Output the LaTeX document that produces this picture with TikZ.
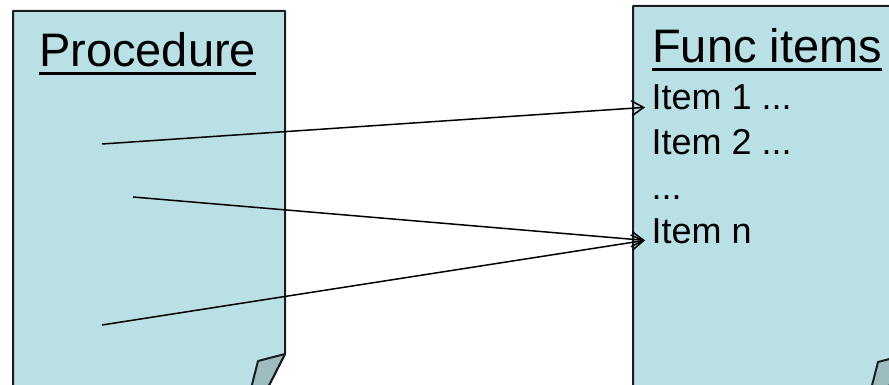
\documentclass[tikz,border=0pt]{standalone}
\usepackage{fontspec}
\setmainfont{Liberation Sans}
\usetikzlibrary{arrows.meta,calc}
\definecolor{doc-fill}{HTML}{B9E0E4}
\definecolor{doc-flap}{HTML}{9CBCBF}
\definecolor{doc-line}{HTML}{1C1C1C}

\begin{document}
\begin{tikzpicture}[>={Straight Barb[length=12pt,width=15pt]},x=1pt,y=-1pt,
  doc/.style={fill=doc-fill,draw=doc-line,line width=2pt,line join=round},
  flap/.style={fill=doc-flap,draw=doc-line,line width=2pt,line join=round},
  title/.style={inner sep=0pt,anchor=base west,font=\fontsize{47}{56}\selectfont},
  item/.style={inner xsep=6.5pt,inner ysep=0pt,anchor=base west,font=\fontsize{36}{43}\selectfont},
  uline/.style={line width=3pt},
  link/.style={->,line width=1.5pt}]
  \useasboundingbox (0,0) rectangle (889,385);
  \clip (0,0) rectangle (889,385);

  % Dokument til venstre
  \draw[doc] (13,11) -- (285,11) -- (285,354) -- (235,452) -- (13,452) -- cycle;
  \draw[flap] (285,354) -- (258,361) -- (235,452) -- cycle;

  % Dokument til hoejre
  \draw[doc] (633,6) -- (905,6) -- (905,355) -- (855,452) -- (633,452) -- cycle;
  \draw[flap] (905,355) -- (878,362) -- (855,452) -- cycle;

  % Overskrifter med understregning
  \node[title] (proc) at (39,67) {Procedure};
  \draw[uline] ([yshift=-7pt]proc.base west) -- ([yshift=-7pt]proc.base east);
  \node[title] (func) at (652,63) {Func items};
  \draw[uline] ([yshift=-7pt]func.base west) -- ([yshift=-7pt]func.base east);

  % Punkter
  \node[item] (item1) at (645,110) {Item 1 ...};
  \node[item] (item2) at (645,155) {Item 2 ...};
  \node[item] (dots)  at (645,199) {...};
  \node[item] (itemn) at (645,243) {Item n};

  % Kald fra proceduren
  \coordinate (call1) at (102,144);
  \coordinate (call2) at (133,197);
  \coordinate (call3) at (102,325);
  \draw[link] (call1) -- (item1.mid west);
  \draw[link] (call2) -- (itemn.mid west);
  \draw[link] (call3) -- (itemn.mid west);
\end{tikzpicture}
\end{document}
